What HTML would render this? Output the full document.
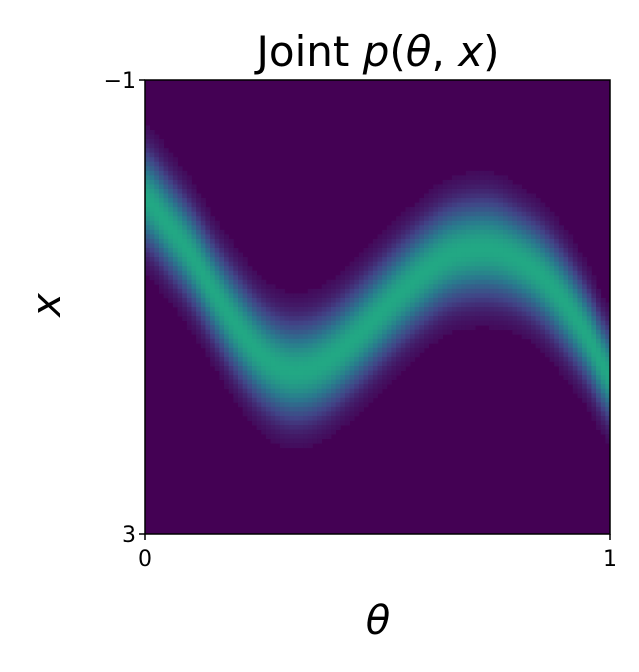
<!DOCTYPE html>
<html><head><meta charset="utf-8"><style>
body{margin:0;background:#fff;width:639px;height:667px;overflow:hidden}
svg{font-family:"DejaVu Sans","Liberation Sans",sans-serif}
.tick{font-size:22px}
.math{font-family:"DejaVu Sans",sans-serif;font-style:italic}
</style></head><body>
<svg id="chart" width="639" height="667" viewBox="0 0 639 667">
<text x="378" y="66" style="font-size:42px" text-anchor="middle">Joint <tspan class="math">p</tspan>(<tspan class="math">θ</tspan>, <tspan class="math">x</tspan>)</text>
<rect x="145" y="80" width="465" height="454" fill="#440154"/>
<g id="cells"></g>
<rect x="145" y="80" width="465" height="454" fill="none" stroke="#000" stroke-width="1.5"/>
<g id="ticks"></g>
<text x="378" y="634" style="font-size:40px" text-anchor="middle" class="math">θ</text>
<text x="60" y="305" style="font-size:40px" text-anchor="middle" class="math" transform="rotate(-90 60 305)">x</text>
</svg>
<script>
const thetaKnots=[0,0.05,0.1,0.15,0.2,0.25,0.3,0.35,0.4,0.45,0.5,0.55,0.6,0.65,0.7,0.75,0.8,0.85,0.9,0.95,1.0];
const centerValues=[0.05,0.28,0.55,0.88,1.18,1.42,1.55,1.55,1.45,1.28,1.08,0.88,0.7,0.56,0.5,0.5,0.58,0.72,0.95,1.25,1.6];
const spreadValues=[0.27,0.27,0.27,0.27,0.28,0.28,0.28,0.28,0.28,0.28,0.28,0.28,0.28,0.28,0.28,0.28,0.27,0.27,0.27,0.26,0.25];
const xTickLabels=["0","1"];
const yTickLabels=["−1","3"];
const xDomain=[0,1], yDomain=[-1,3];
const L=145,R=610,T=80,B=534,NB=100;
const sx=v=>L+(v-xDomain[0])/(xDomain[1]-xDomain[0])*(R-L);
const sy=v=>T+(v-yDomain[0])/(yDomain[1]-yDomain[0])*(B-T);
const NS="http://www.w3.org/2000/svg";
const vir=[[68,1,84],[65,68,135],[42,120,142],[34,168,132],[122,209,81],[253,231,37]];
function col(t){t=Math.max(0,Math.min(1,t))*(vir.length-1);const i=Math.min(Math.floor(t),vir.length-2),f=t-i;
 const c=vir[i].map((a,k)=>Math.round(a+(vir[i+1][k]-a)*f));return `rgb(${c})`;}
function interp(arr,th){const n=thetaKnots.length-1;const p=th*n;const i=Math.min(Math.floor(p),n-1),f=p-i;
 const p0=arr[Math.max(i-1,0)],p1=arr[i],p2=arr[i+1],p3=arr[Math.min(i+2,n)];
 return 0.5*((2*p1)+(-p0+p2)*f+(2*p0-5*p1+4*p2-p3)*f*f+(-p0+3*p1-3*p2+p3)*f*f*f);}
const g=document.getElementById('cells');
const cw=(R-L)/NB,ch=(B-T)/NB;
for(let i=0;i<NB;i++){
 const th=(i+0.5)/NB;const c=interp(centerValues,th),s=interp(spreadValues,th);
 for(let j=0;j<NB;j++){
  const y=yDomain[0]+(j+0.5)/NB*(yDomain[1]-yDomain[0]);
  const d=Math.exp(-0.5*((y-c)/s)**2);
  if(d<0.05)continue;
  const r=document.createElementNS(NS,'rect');
  
  
  r.setAttribute('x',sx(i/NB));r.setAttribute('y',sy(yDomain[0]+j/NB*(yDomain[1]-yDomain[0])));
  r.setAttribute('width',cw+0.4);r.setAttribute('height',ch+0.4);
  r.setAttribute('fill',col(d*0.6));
  g.appendChild(r);
 }
}
const tg=document.getElementById('ticks');
function add(tag,attrs,txt){const e=document.createElementNS(NS,tag);for(const k in attrs)e.setAttribute(k,attrs[k]);if(txt)e.textContent=txt;tg.appendChild(e);return e;}
xDomain.forEach((v,k)=>{
 const l=add('line',{x1:sx(v),x2:sx(v),y1:B,y2:B+6,stroke:'#000','stroke-width':1.5});
 
 const t=add('text',{x:sx(v),y:B+32,'text-anchor':'middle','class':'tick'},xTickLabels[k]);
 
});
yDomain.forEach((v,k)=>{
 const l=add('line',{x1:L-6,x2:L,y1:sy(v),y2:sy(v),stroke:'#000','stroke-width':1.5});
 
 const t=add('text',{x:L-9,y:sy(v)+8,'text-anchor':'end','class':'tick'},yTickLabels[k]);
 
});
</script>
</body></html>
